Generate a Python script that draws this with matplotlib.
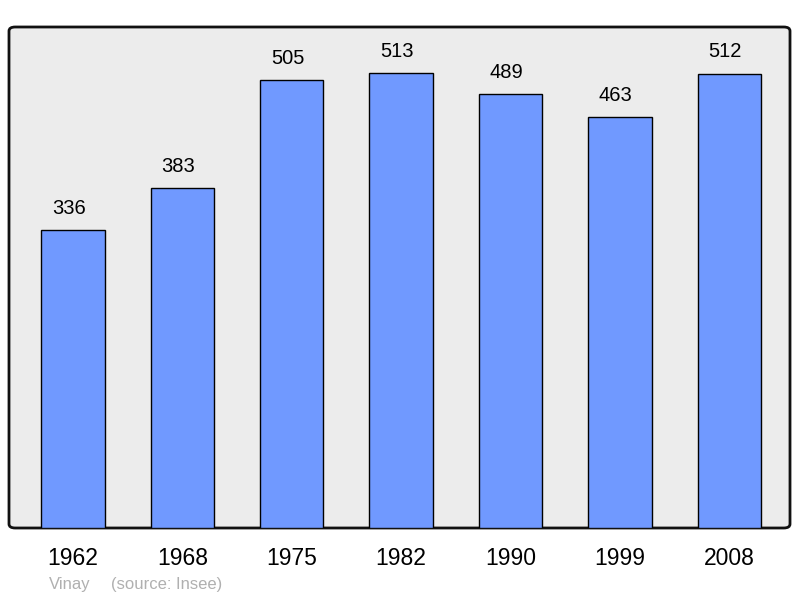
import matplotlib.pyplot as plt
from matplotlib.patches import FancyBboxPatch

years = ['1962', '1968', '1975', '1982', '1990', '1999', '2008']
population = [336, 383, 505, 513, 489, 463, 512]

plt.rcParams['font.family'] = ['Liberation Sans', 'DejaVu Sans']

fig = plt.figure(figsize=(8, 5.98), dpi=100)
ax = fig.add_axes([9 / 800, 1 - 528 / 598, 781 / 800, 501 / 598])
ax.set_facecolor('none')

# rounded frame behind the bars
frame = FancyBboxPatch((0, 0), 1, 1, boxstyle='round,pad=0,rounding_size=0.008',
                       transform=ax.transAxes, facecolor='#ececec',
                       edgecolor='#111111', linewidth=2, zorder=0, clip_on=False)
ax.add_patch(frame)

x = range(len(years))
bars = ax.bar(x, population, width=0.58, color='#7099ff', edgecolor='black',
              linewidth=1, zorder=2)
for xi, v in zip(x, population):
    ax.annotate(str(v), (xi, v), xytext=(-3, 9), textcoords='offset points',
                ha='center', va='bottom', fontsize=14.5, color='black')

ax.set_xlim(-0.585, 6.555)
ax.set_ylim(0, 565)
ax.set_yticks([])
ax.set_xticks(list(x))
ax.set_xticklabels(years, fontsize=16.5)
ax.tick_params(axis='x', length=0, pad=13.5)
for s in ax.spines.values():
    s.set_visible(False)

fig.text(49 / 800, 1 - 585 / 598, 'Vinay', fontsize=12, color='#b0b0b0',
         va='center', ha='left')
fig.text(111 / 800, 1 - 585 / 598, '(source: Insee)', fontsize=12,
         color='#b0b0b0', va='center', ha='left')

fig.savefig('out.png', dpi=100)
